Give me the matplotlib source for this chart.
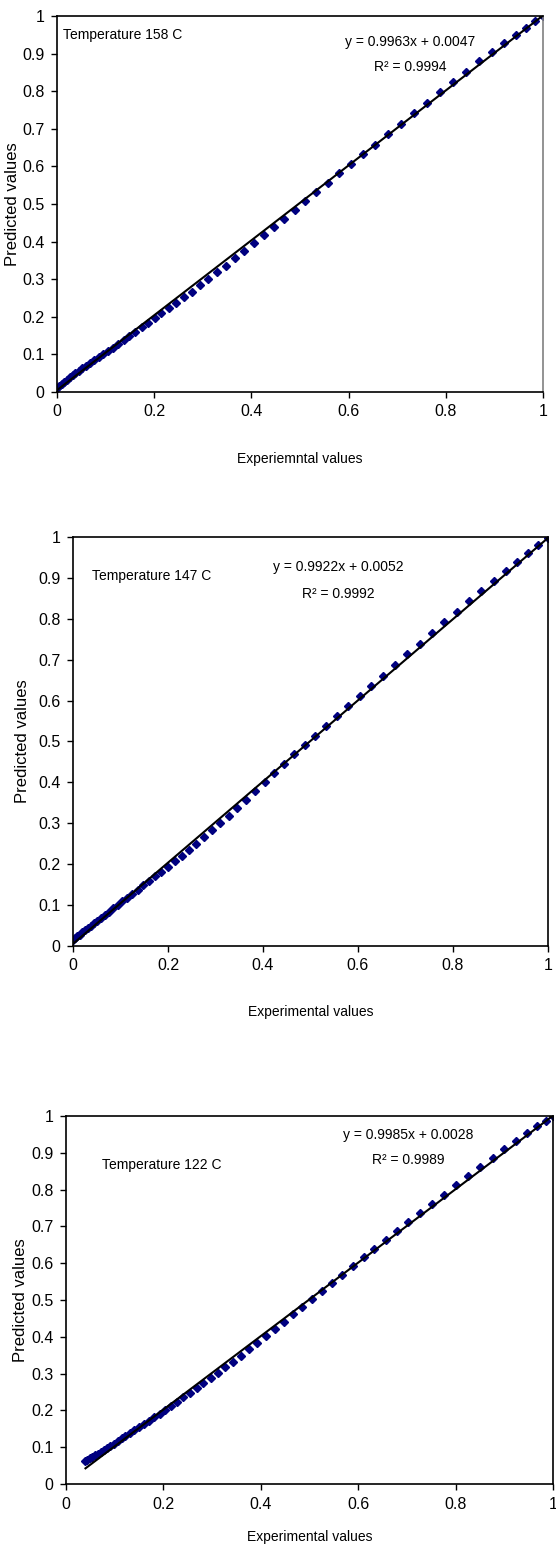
import matplotlib.pyplot as plt
from matplotlib.ticker import FuncFormatter

plt.rcParams['font.family'] = ['Liberation Sans Narrow', 'Liberation Sans', 'DejaVu Sans']

# Temperature 158 C
x158 = [0.000, 0.005, 0.010, 0.015, 0.020, 0.026, 0.032, 0.038, 0.045, 0.052, 0.060, 0.068,
        0.077, 0.086, 0.095, 0.105, 0.115, 0.126, 0.137, 0.149, 0.161, 0.174, 0.187, 0.201,
        0.215, 0.230, 0.245, 0.261, 0.277, 0.294, 0.311, 0.329, 0.347, 0.366, 0.385, 0.405,
        0.425, 0.446, 0.467, 0.489, 0.511, 0.534, 0.557, 0.581, 0.605, 0.630, 0.655, 0.681,
        0.707, 0.734, 0.761, 0.788, 0.815, 0.842, 0.869, 0.895, 0.920, 0.944, 0.965, 0.984, 1.000]
y158 = [0.011, 0.016, 0.022, 0.027, 0.033, 0.039, 0.044, 0.050, 0.056, 0.063, 0.069, 0.076,
        0.084, 0.092, 0.100, 0.110, 0.118, 0.128, 0.138, 0.149, 0.160, 0.172, 0.183, 0.196,
        0.209, 0.223, 0.237, 0.252, 0.267, 0.284, 0.300, 0.318, 0.336, 0.356, 0.375, 0.396,
        0.417, 0.439, 0.461, 0.484, 0.507, 0.531, 0.556, 0.581, 0.606, 0.632, 0.658, 0.686,
        0.713, 0.741, 0.769, 0.797, 0.825, 0.852, 0.880, 0.904, 0.928, 0.950, 0.969, 0.986, 1.000]

# Temperature 147 C
x147 = [0.000, 0.004, 0.009, 0.014, 0.019, 0.025, 0.031, 0.037, 0.044, 0.051, 0.059, 0.067,
        0.076, 0.085, 0.094, 0.104, 0.114, 0.125, 0.136, 0.148, 0.160, 0.173, 0.186, 0.200,
        0.214, 0.229, 0.244, 0.260, 0.276, 0.293, 0.310, 0.328, 0.346, 0.365, 0.384, 0.404,
        0.424, 0.445, 0.466, 0.488, 0.510, 0.533, 0.556, 0.580, 0.604, 0.628, 0.653, 0.678,
        0.704, 0.730, 0.756, 0.782, 0.808, 0.834, 0.860, 0.886, 0.911, 0.935, 0.958, 0.980, 1.000]
y147 = [0.015, 0.019, 0.024, 0.028, 0.033, 0.039, 0.044, 0.049, 0.056, 0.062, 0.069, 0.076,
        0.084, 0.092, 0.100, 0.109, 0.117, 0.127, 0.137, 0.148, 0.158, 0.170, 0.181, 0.194,
        0.207, 0.220, 0.234, 0.250, 0.266, 0.283, 0.300, 0.319, 0.338, 0.358, 0.379, 0.401,
        0.423, 0.446, 0.469, 0.491, 0.514, 0.538, 0.562, 0.587, 0.612, 0.636, 0.661, 0.686,
        0.713, 0.739, 0.765, 0.791, 0.817, 0.843, 0.868, 0.893, 0.917, 0.939, 0.961, 0.981, 0.998]

# Temperature 122 C
x122 = [0.040, 0.044, 0.049, 0.054, 0.059, 0.065, 0.071, 0.077, 0.084, 0.091, 0.098, 0.106,
        0.114, 0.122, 0.131, 0.140, 0.150, 0.160, 0.170, 0.181, 0.192, 0.204, 0.216, 0.228,
        0.241, 0.254, 0.268, 0.282, 0.297, 0.312, 0.327, 0.343, 0.359, 0.376, 0.393, 0.411,
        0.429, 0.447, 0.466, 0.485, 0.505, 0.525, 0.546, 0.567, 0.589, 0.611, 0.633, 0.656,
        0.679, 0.703, 0.727, 0.751, 0.776, 0.801, 0.826, 0.851, 0.876, 0.900, 0.924, 0.947,
        0.968, 0.986, 1.000]
y122 = [0.062, 0.065, 0.070, 0.074, 0.078, 0.083, 0.088, 0.093, 0.099, 0.104, 0.110, 0.117,
        0.124, 0.131, 0.139, 0.146, 0.155, 0.163, 0.172, 0.182, 0.191, 0.202, 0.213, 0.224,
        0.236, 0.248, 0.261, 0.274, 0.288, 0.303, 0.318, 0.333, 0.349, 0.366, 0.384, 0.402,
        0.421, 0.441, 0.461, 0.481, 0.503, 0.524, 0.547, 0.569, 0.592, 0.616, 0.639, 0.663,
        0.687, 0.712, 0.736, 0.761, 0.786, 0.812, 0.837, 0.862, 0.886, 0.910, 0.932, 0.953,
        0.972, 0.988, 1.000]

# trendline coefficients as printed on the chart
slopes = [0.9963, 0.9922, 0.9985]
intercepts = [0.0047, 0.0052, 0.0028]
r2s = [0.9994, 0.9992, 0.9989]
titles = ['Temperature 158 C', 'Temperature 147 C', 'Temperature 122 C']
xlabels = ['Experiemntal values', 'Experimental values', 'Experimental values']
ticks = [0, 0.2, 0.4, 0.6, 0.8, 1.0]
yticks = [0, 0.1, 0.2, 0.3, 0.4, 0.5, 0.6, 0.7, 0.8, 0.9, 1.0]


def drawPanel(ax, xs, ys, i, titlePos, eqPos, ylabelX, xlabelY, rightColor='black'):
    ax.plot(xs, ys, linestyle='none', marker='D', markersize=3.8,
            color='#000080', markeredgecolor='#000080', zorder=2)

    # trendline over the data range
    x0, x1 = xs[0], xs[-1]
    ax.plot([x0, x1], [slopes[i] * x0 + intercepts[i], slopes[i] * x1 + intercepts[i]],
            color='black', linewidth=1.5, zorder=3)

    ax.set_xlim(0, 1)
    ax.set_ylim(0, 1)
    ax.set_xticks(ticks)
    ax.set_yticks(yticks)
    fmt = FuncFormatter(lambda v, p: '%g' % round(v, 2))
    ax.xaxis.set_major_formatter(fmt)
    ax.yaxis.set_major_formatter(fmt)
    ax.tick_params(direction='out', length=4, width=1, labelsize=11.5, pad=5)

    for s in ax.spines.values():
        s.set_linewidth(1.2)
    ax.spines['right'].set_color(rightColor)

    ax.text(titlePos[0], titlePos[1], titles[i], transform=ax.transAxes,
            fontsize=10, ha='left', va='center')
    ax.text(eqPos[0], eqPos[1], 'y = %.4fx + %.4f' % (slopes[i], intercepts[i]),
            transform=ax.transAxes, fontsize=10, ha='center', va='center')
    ax.text(eqPos[0], eqPos[1] - 0.066, 'R² = %.4f' % r2s[i],
            transform=ax.transAxes, fontsize=10, ha='center', va='center')

    ax.set_xlabel(xlabels[i], fontsize=10)
    ax.set_ylabel('Predicted values', fontsize=12)
    ax.xaxis.set_label_coords(0.5, xlabelY)
    ax.yaxis.set_label_coords(ylabelX, 0.5)


fig = plt.figure(figsize=(5.56, 15.48), dpi=100)
ax1 = fig.add_axes([0.1025, 0.7468, 0.874, 0.2429])
ax2 = fig.add_axes([0.1313, 0.3889, 0.854, 0.2642])
ax3 = fig.add_axes([0.1187, 0.0413, 0.876, 0.2377])

drawPanel(ax1, x158, y158, 0, (0.012, 0.949), (0.726, 0.931), -0.076, -0.16, rightColor='#808080')
drawPanel(ax2, x147, y147, 1, (0.04, 0.905), (0.558, 0.927), -0.09, -0.145)
drawPanel(ax3, x122, y122, 2, (0.074, 0.867), (0.702, 0.948), -0.078, -0.125)

fig.savefig('out.png', dpi=100)
